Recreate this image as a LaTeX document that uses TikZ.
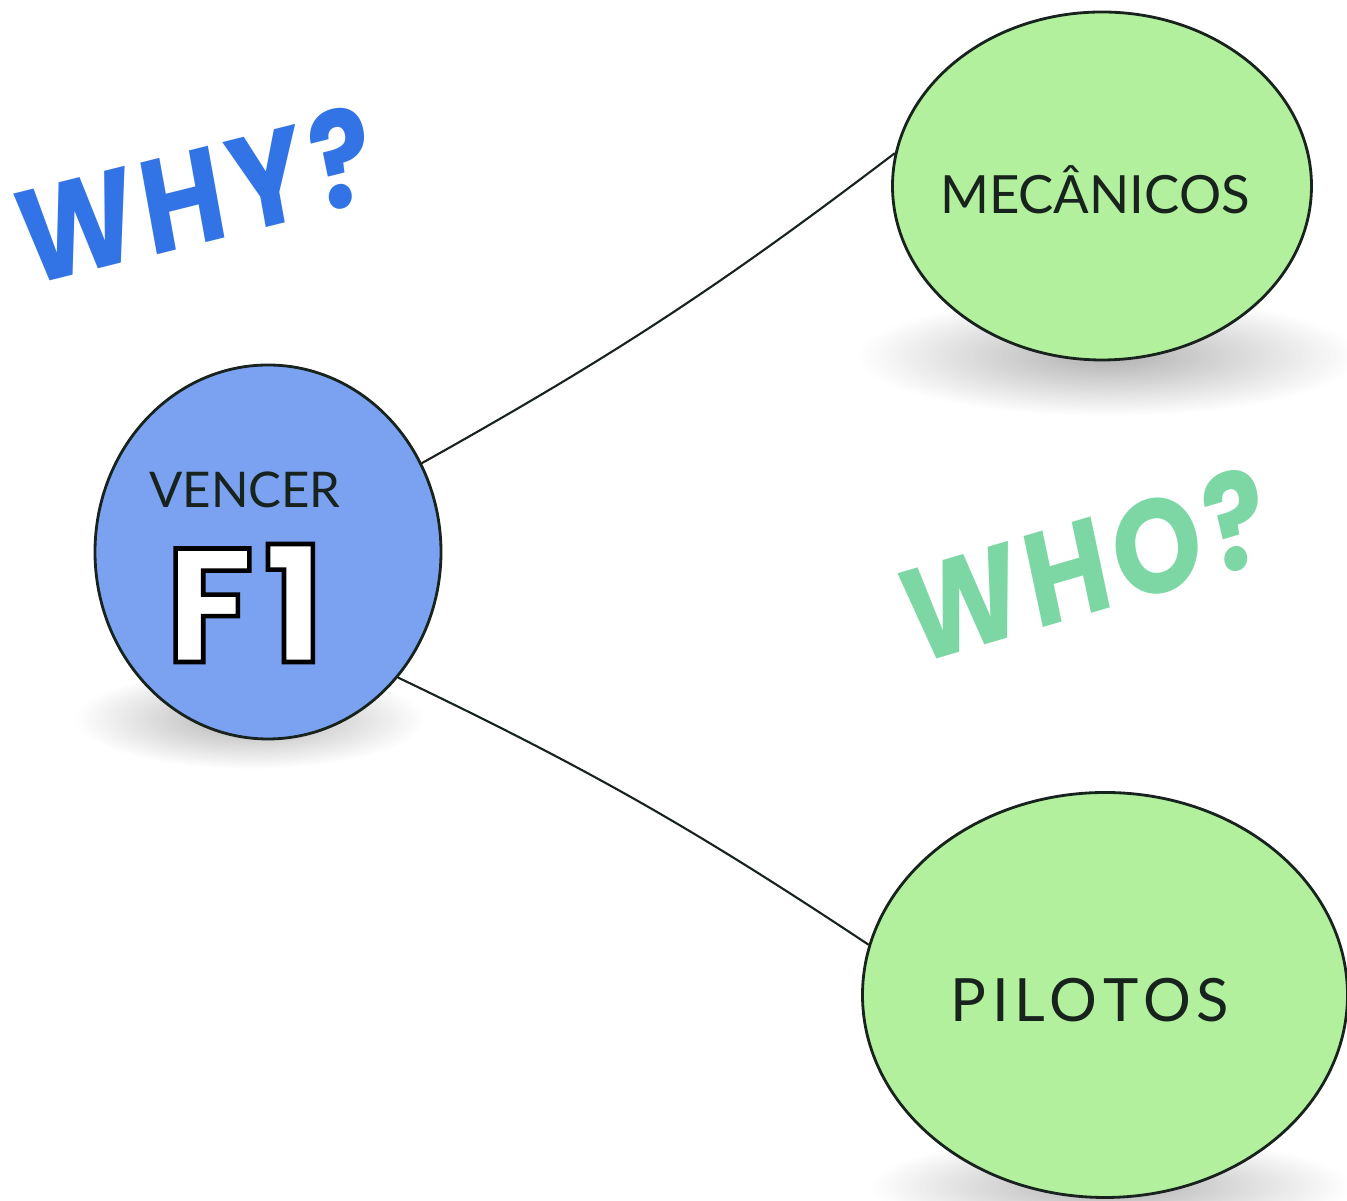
\documentclass[tikz,border=0pt]{standalone}
\usepackage{fontspec}
\setmainfont{Lato}
\newfontfamily\markfont{Poppins}[LetterSpace=6]
\usetikzlibrary{shapes.geometric,fadings}

\definecolor{goalblue}{RGB}{122,162,240}
\definecolor{teamgreen}{RGB}{178,240,158}
\definecolor{whyblue}{RGB}{50,115,230}
\definecolor{whogreen}{RGB}{125,215,165}
\definecolor{penink}{RGB}{25,35,30}

\tikzfading[name=softshade, inner color=transparent!15, outer color=transparent!100]

\tikzset{
  blob/.style={ellipse, draw=penink, thick, inner sep=0pt},
  floorshade/.style={fill=black!60, fill opacity=0.6, path fading=softshade},
  handtext/.style={text=penink, font=\fontsize{14}{14}\selectfont},
  question/.style={font=\markfont\bfseries\fontsize{38}{38}\selectfont, xscale=0.85},
  link/.style={draw=penink, semithick}
}

\newcommand{\outlined}[1]{\special{pdf:literal direct 2 Tr 1.3 w 0 G}#1\special{pdf:literal direct 0 Tr}}

\begin{document}
\begin{tikzpicture}
\useasboundingbox (0,0) rectangle (13.47,12.01);

% shadows under the bubbles
	\fill[floorshade] (2.5,4.82) ellipse (1.75cm and 0.5cm);
	\fill[floorshade] (11.08,8.45) ellipse (2.5cm and 0.6cm);
	\fill[floorshade] (11.1,0.15) ellipse (2.4cm and 0.5cm);

% goal
	\node[blob, fill=goalblue, minimum width=3.46cm, minimum height=3.74cm] (vencer) at (2.68,6.49) {};
	\node[handtext] (vencertxt) at (2.45,7.11) {VENCER};
	\node[font=\markfont\bfseries\fontsize{46}{46}\selectfont, text=white] (f1) at (2.45,5.98) {\outlined{F1}};

% team
	\node[blob, fill=teamgreen, minimum width=4.19cm, minimum height=3.48cm] (mec) at (11.02,10.15) {};
	\node[handtext, font=\fontsize{15}{15}\selectfont] (mectxt) at (10.95,10.11) {MECÂNICOS};

	\node[blob, fill=teamgreen, minimum width=4.85cm, minimum height=4.05cm] (pil) at (11.05,2.06) {};
	\node[handtext, font=\fontsize{17}{17}\selectfont] (piltxt) at (10.9,2.01) {P\kern1.5pt I\kern1.5pt L\kern1.5pt O\kern1.5pt T\kern1.5pt O\kern1.5pt S};

% questions
	\node[question, rotate=12, text=whyblue] (why) at (1.95,10.06) {WHY?};
	\node[question, rotate=14, text=whogreen] (who) at (10.85,6.36) {WHO?};

% links
	\draw[link] (vencer.30) to[bend right=4] (mec.171);
	\draw[link] (vencer.-44) to[bend left=4] (pil.168);
\end{tikzpicture}
\end{document}
